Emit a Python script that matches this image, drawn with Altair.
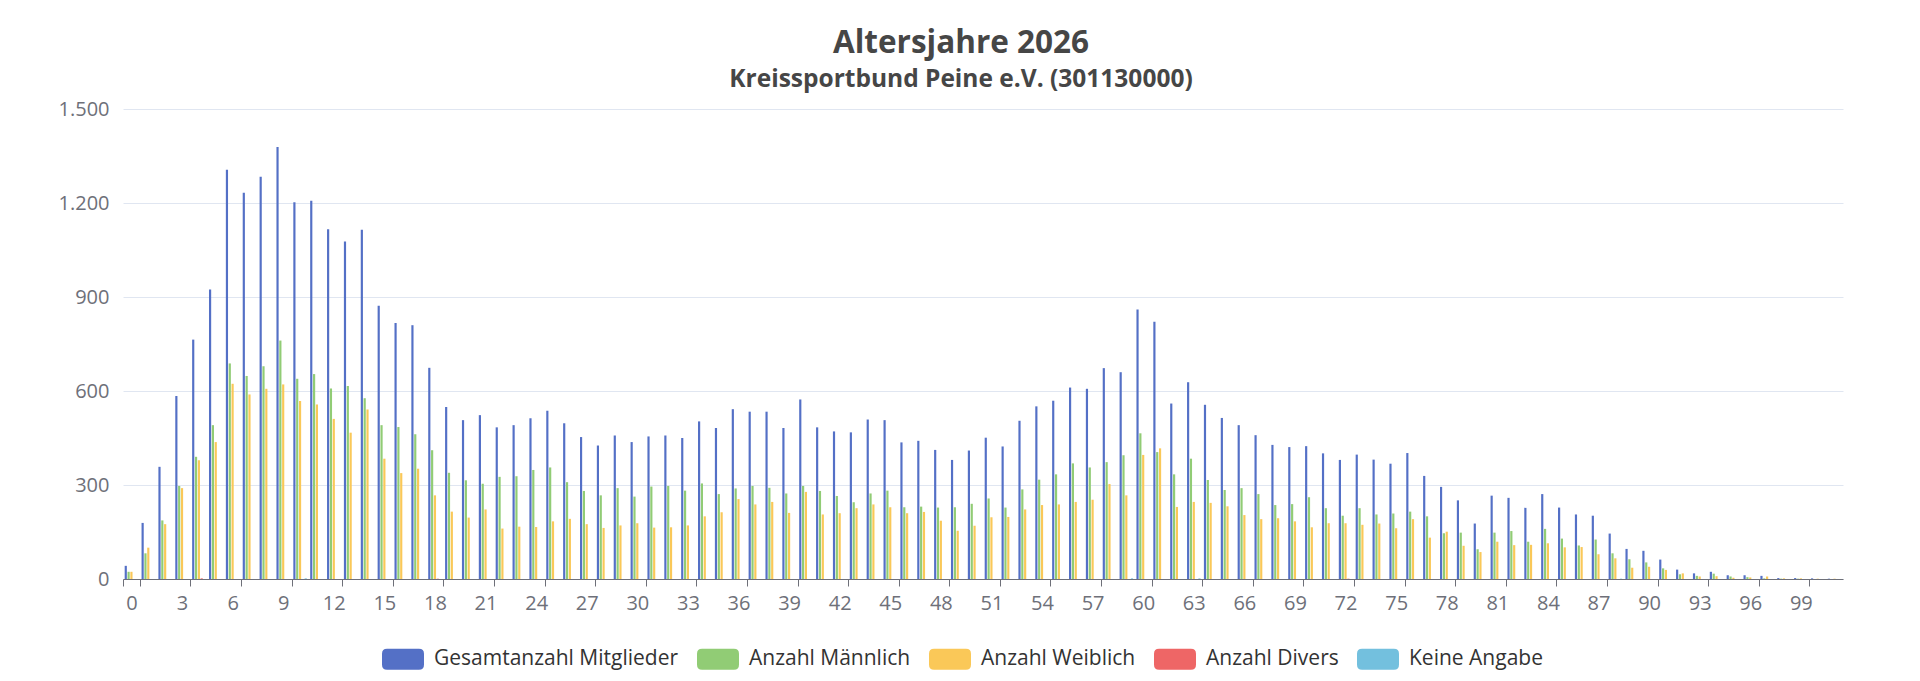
import altair as alt
import pandas as pd

ages = list(range(0, 102))

series_names = ["Gesamtanzahl Mitglieder", "Anzahl Männlich", "Anzahl Weiblich", "Anzahl Divers", "Keine Angabe"]
series_colors = ["#5470c6", "#91cc75", "#fac858", "#ee6666", "#73c0de"]

gesamt = [42, 179, 358, 584, 764, 924, 1306, 1233, 1284, 1379,
          1202, 1207, 1116, 1077, 1115, 872, 817, 810, 674, 549,
          507, 523, 484, 491, 513, 537, 497, 453, 426, 458,
          437, 455, 458, 450, 503, 482, 542, 534, 534, 482,
          573, 484, 471, 468, 509, 507, 436, 441, 412, 380,
          410, 451, 423, 505, 551, 569, 611, 607, 673, 660,
          860, 821, 560, 628, 556, 514, 491, 459, 428, 421,
          424, 401, 380, 397, 381, 368, 402, 329, 294, 251,
          177, 266, 259, 227, 271, 228, 206, 202, 145, 96,
          90, 62, 30, 18, 23, 12, 12, 10, 3, 3,
          2, 1]

maennlich = [23, 82, 187, 297, 390, 491, 688, 648, 679, 761,
             639, 654, 608, 616, 577, 491, 485, 462, 411, 339,
             315, 304, 326, 328, 348, 356, 309, 281, 267, 290,
             263, 295, 297, 282, 305, 271, 289, 297, 291, 273,
             297, 281, 265, 245, 273, 282, 229, 231, 228, 229,
             240, 257, 228, 286, 317, 334, 369, 356, 373, 395,
             465, 405, 334, 384, 316, 284, 290, 271, 236, 239,
             261, 226, 202, 226, 206, 209, 215, 200, 146, 148,
             95, 148, 153, 119, 160, 129, 107, 126, 82, 63,
             53, 34, 15, 10, 17, 8, 6, 2, 1, 1,
             0, 0]

weiblich = [23, 100, 175, 290, 379, 437, 623, 589, 607, 621,
            568, 557, 511, 467, 541, 384, 338, 352, 267, 215,
            196, 222, 161, 167, 166, 184, 192, 175, 163, 171,
            178, 164, 165, 171, 200, 213, 255, 238, 246, 211,
            278, 206, 210, 226, 238, 229, 210, 214, 186, 154,
            170, 197, 198, 222, 236, 238, 246, 253, 303, 267,
            396, 417, 230, 246, 243, 232, 204, 191, 194, 184,
            165, 178, 178, 173, 177, 162, 191, 132, 151, 106,
            86, 119, 108, 109, 114, 101, 102, 79, 66, 36,
            39, 29, 18, 8, 9, 4, 5, 8, 2, 2,
            1, 1]

divers = [0, 0, 0, 0, 2, 0, 0, 0, 0, 0,
          0, 0, 0, 0, 0, 0, 0, 0, 1, 0,
          0, 0, 0, 0, 0, 0, 0, 0, 0, 0,
          0, 0, 0, 0, 0, 0, 0, 0, 0, 0,
          0, 0, 0, 0, 0, 0, 0, 0, 0, 0,
          0, 0, 0, 0, 0, 0, 0, 0, 0, 0,
          0, 0, 0, 0, 0, 0, 0, 0, 0, 0,
          0, 0, 1, 0, 0, 0, 0, 0, 0, 0,
          0, 0, 0, 0, 0, 0, 0, 0, 0, 0,
          0, 0, 0, 0, 0, 0, 0, 0, 0, 0,
          0, 0]

keine_angabe = [0, 0, 0, 0, 0, 0, 0, 0, 0, 0,
                2, 0, 0, 0, 0, 0, 0, 0, 0, 0,
                0, 0, 0, 0, 0, 0, 0, 0, 0, 0,
                0, 0, 0, 0, 0, 0, 0, 0, 0, 0,
                0, 0, 0, 0, 0, 0, 0, 0, 0, 0,
                0, 0, 0, 0, 0, 0, 0, 0, 0, 2,
                0, 0, 0, 2, 0, 0, 0, 0, 0, 0,
                0, 0, 0, 0, 0, 0, 0, 0, 0, 0,
                0, 0, 0, 0, 0, 0, 0, 0, 1, 0,
                0, 0, 0, 0, 0, 0, 0, 0, 0, 0,
                0, 0]

x_tick_labels = list(range(0, 100, 3))
y_tick_values = [0, 300, 600, 900, 1200, 1500]

series_values = [gesamt, maennlich, weiblich, divers, keine_angabe]
rows = []
for name, vals in zip(series_names, series_values):
    for a, v in zip(ages, vals):
        rows.append({"age": a, "series": name, "value": v})
df = pd.DataFrame(rows)

FONT = "Open Sans"
legend_path = ("M-0.76,-0.5 H0.76 Q1,-0.5 1,-0.26 V0.26 Q1,0.5 0.76,0.5 "
               "H-0.76 Q-1,0.5 -1,0.26 V-0.26 Q-1,-0.5 -0.76,-0.5 Z")

chart = alt.Chart(df).mark_bar().encode(
    x=alt.X(
        "age:O",
        title=None,
        scale=alt.Scale(paddingInner=0, paddingOuter=0),
        axis=alt.Axis(
            values=x_tick_labels,
            labelAngle=0,
            tickBand="extent",
            grid=False,
            domainColor="#6E7079",
            tickColor="#6E7079",
            tickSize=7,
            labelPadding=7,
            labelColor="#6E7079",
            labelFont=FONT,
            labelFontSize=20,
        ),
    ),
    xOffset=alt.XOffset(
        "series:N",
        sort=series_names,
        scale=alt.Scale(domain=series_names, paddingInner=0.23, paddingOuter=0.594),
    ),
    y=alt.Y(
        "value:Q",
        title=None,
        scale=alt.Scale(domain=[0, 1500], nice=False),
        axis=alt.Axis(
            values=y_tick_values,
            labelExpr="replace(format(datum.value, ','), ',', '.')",
            domain=False,
            ticks=False,
            grid=True,
            gridColor="#E0E6F1",
            gridWidth=1,
            labelPadding=14,
            minExtent=110,
            labelColor="#6E7079",
            labelFont=FONT,
            labelFontSize=20,
        ),
    ),
    color=alt.Color(
        "series:N",
        sort=series_names,
        scale=alt.Scale(domain=series_names, range=series_colors),
        legend=alt.Legend(
            title=None,
            orient="none",
            direction="horizontal",
            legendX=259,
            legendY=529,
            symbolType=legend_path,
            symbolSize=1764,
            symbolStrokeWidth=0,
            symbolOpacity=1,
            labelFont=FONT,
            labelFontSize=21,
            labelColor="#333333",
            labelOffset=10,
            labelLimit=500,
            columnPadding=18,
            padding=0,
        ),
    ),
).properties(
    width=1720,
    height=470,
    padding={"left": 5, "top": 20, "right": 5, "bottom": 5},
    title=alt.TitleParams(
        text="Altersjahre 2026",
        subtitle="Kreissportbund Peine e.V. (301130000)",
        font=FONT,
        subtitleFont=FONT,
        fontSize=31.5,
        subtitleFontSize=24.5,
        fontWeight="bold",
        subtitleFontWeight="bold",
        color="#464646",
        subtitleColor="#464646",
        anchor="middle",
        dx=-22,
        offset=8,
        subtitlePadding=8,
    ),
).configure(background="white").configure_view(stroke=None)

chart.save("out.html", embed_options={"renderer": "svg", "actions": False})
